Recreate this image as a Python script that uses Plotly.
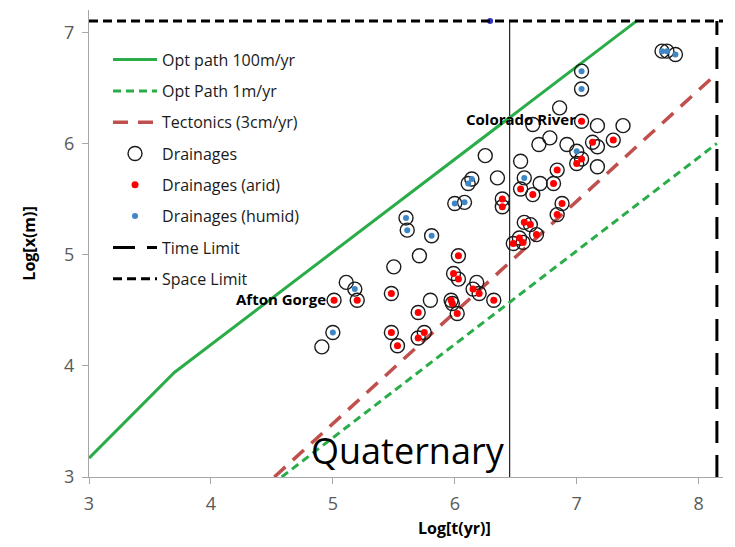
import plotly.graph_objects as go

# ---------------- data ----------------
opt100_t = [3.0, 3.7, 7.49]
opt100_x = [3.17, 3.94, 7.1]

opt1_t = [4.58, 8.15]
opt1_x = [3.0, 6.0]

tect_t = [4.52, 8.15]
tect_x = [3.0, 6.63]

drain_t = [4.91, 5.00, 5.01, 5.11, 5.18, 5.20, 5.50, 5.48, 5.48, 5.53,
           5.60, 5.61, 5.71, 5.81, 5.70, 5.75, 5.70, 5.80, 5.97, 5.98,
           6.02, 6.03, 5.99, 6.03, 6.18, 6.15, 6.20, 6.32, 6.00, 6.08,
           6.11, 6.14, 6.25, 6.35, 6.39, 6.39, 6.48, 6.53, 6.56, 6.57,
           6.62, 6.67, 6.54, 6.57, 6.70, 6.64, 6.81, 6.84, 6.88, 6.84,
           6.54, 6.64, 6.78, 6.69, 6.92, 6.86, 7.04, 7.17, 7.38, 7.13,
           7.17, 7.30, 7.00, 7.04, 7.00, 7.17, 7.04, 7.04, 7.70, 7.74, 7.81]
drain_x = [4.17, 4.30, 4.59, 4.75, 4.69, 4.59, 4.89, 4.65, 4.30, 4.18,
           5.33, 5.22, 4.99, 5.17, 4.48, 4.30, 4.25, 4.59, 4.59, 4.56,
           4.47, 4.99, 4.83, 4.78, 4.75, 4.69, 4.65, 4.59, 5.46, 5.47,
           5.64, 5.68, 5.89, 5.69, 5.50, 5.43, 5.10, 5.15, 5.11, 5.29,
           5.27, 5.18, 5.59, 5.69, 5.64, 5.54, 5.64, 5.76, 5.46, 5.36,
           5.84, 6.17, 6.05, 5.99, 5.99, 6.32, 6.20, 6.16, 6.16, 6.01,
           5.97, 6.03, 5.93, 5.86, 5.82, 5.79, 6.65, 6.49, 6.83, 6.83, 6.80]

arid_t = [5.01, 5.20, 5.48, 5.48, 5.53, 5.70, 5.75, 5.70, 5.97, 5.98,
          6.02, 6.03, 5.99, 6.03, 6.15, 6.20, 6.32, 6.39, 6.39, 6.48,
          6.53, 6.56, 6.57, 6.62, 6.67, 6.54, 6.64, 6.81, 6.84, 6.88,
          6.84, 7.04, 7.13, 7.30, 7.04, 7.00]
arid_x = [4.59, 4.59, 4.65, 4.30, 4.18, 4.48, 4.30, 4.25, 4.59, 4.56,
          4.47, 4.99, 4.83, 4.78, 4.69, 4.65, 4.59, 5.50, 5.43, 5.10,
          5.15, 5.11, 5.29, 5.27, 5.18, 5.59, 5.54, 5.64, 5.76, 5.46,
          5.36, 6.20, 6.01, 6.03, 5.86, 5.82]

humid_t = [5.00, 5.18, 5.60, 5.61, 5.81, 6.00, 6.08, 6.11, 6.14, 6.57,
           7.00, 7.04, 7.04, 7.70, 7.74, 7.81]
humid_x = [4.30, 4.69, 5.33, 5.22, 5.17, 5.46, 5.47, 5.64, 5.68, 5.69,
           5.93, 6.65, 6.49, 6.83, 6.83, 6.80]

extra_t = [6.29]
extra_x = [7.10]

time_limit_t = [8.15, 8.15]
time_limit_x = [3.0, 7.1]
space_limit_t = [3.0, 8.2]
space_limit_x = [7.1, 7.1]
quat_t = [6.45, 6.45]
quat_x = [3.0, 7.1]

xticks = [3, 4, 5, 6, 7, 8]
yticks = [3, 4, 5, 6, 7]

GREEN = "#2aad48"
FONT = "Open Sans"

fig = go.Figure()

fig.add_trace(go.Scatter(x=quat_t, y=quat_x, mode="lines", showlegend=False,
                         line=dict(color="#222222", width=1.2), hoverinfo="skip"))
fig.add_trace(go.Scatter(x=opt100_t, y=opt100_x, mode="lines", name="Opt path 100m/yr",
                         legendgroup="a", line=dict(color=GREEN, width=3)))
fig.add_trace(go.Scatter(x=opt1_t, y=opt1_x, mode="lines", name="Opt Path 1m/yr",
                         legendgroup="b", line=dict(color=GREEN, width=3, dash="8px,5px")))
fig.add_trace(go.Scatter(x=tect_t, y=tect_x, mode="lines", name="Tectonics (3cm/yr)",
                         legendgroup="c", line=dict(color="#c0504d", width=3.5, dash="15px,10px")))
fig.add_trace(go.Scatter(x=drain_t, y=drain_x, mode="markers", name="Drainages",
                         legendgroup="d",
                         marker=dict(symbol="circle-open", size=14, color="#1a1a1a",
                                     line=dict(width=1.4, color="#1a1a1a"))))
fig.add_trace(go.Scatter(x=arid_t, y=arid_x, mode="markers", name="Drainages (arid)",
                         legendgroup="e", marker=dict(size=7, color="#ff0000")))
fig.add_trace(go.Scatter(x=humid_t, y=humid_x, mode="markers", name="Drainages (humid)",
                         legendgroup="f", marker=dict(size=6, color="#3f86c4")))
fig.add_trace(go.Scatter(x=extra_t, y=extra_x, mode="markers", showlegend=False,
                         marker=dict(size=6, color="#3535c8")))
fig.add_trace(go.Scatter(x=time_limit_t, y=time_limit_x, mode="lines", name="Time Limit",
                         legendgroup="g", line=dict(color="black", width=3, dash="22px,12px")))
fig.add_trace(go.Scatter(x=space_limit_t, y=space_limit_x, mode="lines", name="Space Limit",
                         legendgroup="h", line=dict(color="black", width=3, dash="9px,5px")))

fig.add_annotation(x=7.01, y=6.22, xref="x", yref="y", text="<b>Colorado River</b>",
                   showarrow=False, xanchor="right", yanchor="middle",
                   font=dict(family=FONT, size=15, color="black"))
fig.add_annotation(x=4.96, y=4.60, xref="x", yref="y", text="<b>Afton Gorge</b>",
                   showarrow=False, xanchor="right", yanchor="middle",
                   font=dict(family=FONT, size=15, color="black"))
fig.add_annotation(x=6.43, y=3.0, xref="x", yref="y", text="Quaternary",
                   showarrow=False, xanchor="right", yanchor="bottom",
                   font=dict(family=FONT, size=36, color="black"))
fig.add_annotation(x=6.0, y=-0.11, xref="x", yref="paper", text="<b>Log[t(yr)]</b>",
                   showarrow=False, xanchor="center", yanchor="middle",
                   font=dict(family=FONT, size=16, color="black"))
fig.add_annotation(x=-0.096, y=0.5, xref="paper", yref="paper", text="<b>Log[x(m)]</b>",
                   showarrow=False, xanchor="center", yanchor="middle", textangle=-90,
                   font=dict(family=FONT, size=16, color="black"))

fig.update_layout(
    width=735, height=547,
    margin=dict(l=89, r=12, t=10, b=70, autoexpand=False),
    paper_bgcolor="white", plot_bgcolor="white",
    font=dict(family=FONT, color="black"),
    legend=dict(x=0.03, y=0.93, xanchor="left", yanchor="top",
                bgcolor="rgba(0,0,0,0)", font=dict(family=FONT, size=16, color="#1a1a1a"),
                tracegroupgap=7.5, itemwidth=44, traceorder="grouped"),
    xaxis=dict(range=[3, 8.2], tickvals=xticks, ticks="outside", ticklen=6,
               tickcolor="#a6a6a6", showline=True, linecolor="#a6a6a6", linewidth=1,
               showgrid=False, zeroline=False, ticklabelstandoff=4,
               tickfont=dict(family=FONT, size=18, color="#595959")),
    yaxis=dict(range=[3, 7.2], tickvals=yticks, ticks="outside", ticklen=6,
               tickcolor="#a6a6a6", showline=True, linecolor="#a6a6a6", linewidth=1,
               showgrid=False, zeroline=False, ticklabelstandoff=4,
               tickfont=dict(family=FONT, size=18, color="#595959")),
)

fig.write_html("out.html")
